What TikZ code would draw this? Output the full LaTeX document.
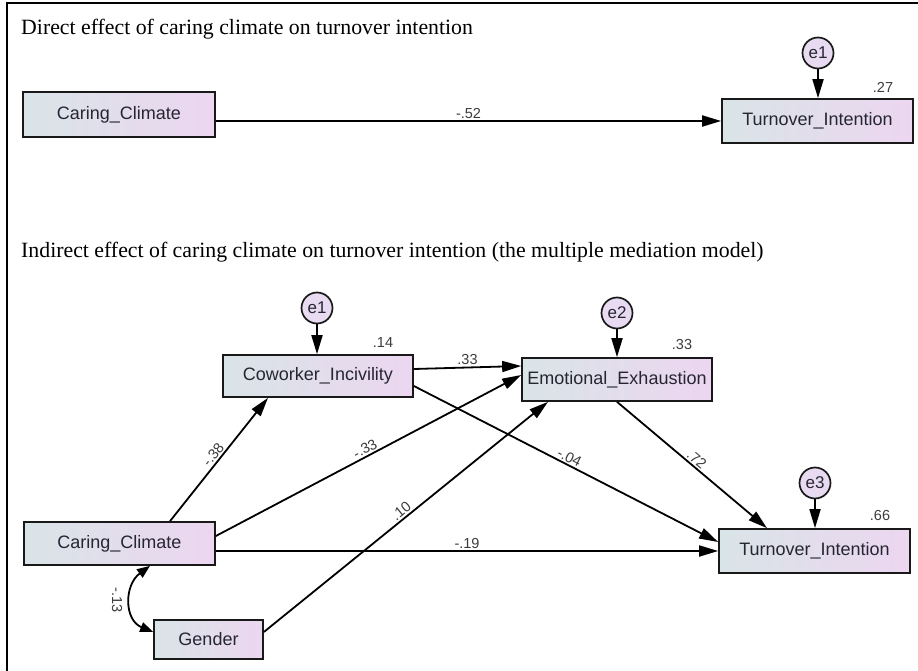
\documentclass[tikz,border=0pt]{standalone}
\usepackage{fontspec}
\setmainfont{Liberation Serif}
\setsansfont{Liberation Sans}
\usetikzlibrary{arrows.meta}
\definecolor{boxL}{RGB}{217,228,231}
\definecolor{boxR}{RGB}{236,214,240}
\definecolor{errF}{RGB}{232,218,240}
\definecolor{txt}{RGB}{38,38,51}
\definecolor{coefc}{RGB}{60,60,60}
\begin{document}
\begin{tikzpicture}[x=1pt,y=-1pt,
  varbox/.style={draw=black!90, line width=1.7pt, left color=boxL, right color=boxR,
    inner sep=0pt, text=txt, font=\sffamily\fontsize{18}{21}\selectfont},
  errc/.style={circle, draw=black!90, line width=1.7pt, fill=errF, minimum size=31pt,
    inner sep=0pt, text=txt, font=\sffamily\fontsize{17}{20}\selectfont},
  conn/.style={line width=1.8pt, -{Triangle[length=19pt,width=11pt]}},
  cov/.style={line width=1.8pt, {Triangle[length=13pt,width=10pt]}-{Triangle[length=13pt,width=10pt]}},
  coef/.style={font=\sffamily\fontsize{14.5}{16}\selectfont, text=coefc, inner sep=1.5pt},
  ttl/.style={font=\fontsize{21.8}{26}\selectfont, anchor=base west, inner sep=0pt}]
\useasboundingbox (0,0) rectangle (918,671);
\fill[white] (0,0) rectangle (918,671);
% frame
\draw[line width=1.2pt] (7,671) -- (7,3) -- (918,3);

% ---------- top panel ----------
\node[ttl] (t1) at (21,35) {Direct effect of caring climate on turnover intention};
\node[varbox, minimum width=192pt, minimum height=45pt] (cc1) at (119,114.5) {Caring\_Climate};
\node[varbox, minimum width=191pt, minimum height=44pt] (ti1) at (817.5,121) {Turnover\_Intention};
\node[errc] (e1a) at (818,53) {e1};
\node[coef] (r27) at (883,87) {.27};
\draw[conn] (cc1.east |- ti1.west) -- node[coef, above] (l52) {-.52} (ti1.west);
\draw[conn] (e1a.south) -- (e1a.south |- ti1.north);

% ---------- bottom panel ----------
\node[ttl] (t2) at (21,258) {Indirect effect of caring climate on turnover intention (the multiple mediation model)};
\node[varbox, minimum width=191pt, minimum height=43pt] (cc2) at (119.5,543.5) {Caring\_Climate};
\node[varbox, minimum width=190pt, minimum height=42pt] (ci) at (318,376) {Coworker\_Incivility};
\node[varbox, minimum width=190pt, minimum height=43pt] (ee) at (617,379.5) {Emotional\_Exhaustion};
\node[varbox, minimum width=191pt, minimum height=44pt] (ti2) at (814.5,551) {Turnover\_Intention};
\node[varbox, minimum width=109pt, minimum height=39pt] (g) at (208.5,639.5) {Gender};
\node[errc] (e1b) at (317,308) {e1};
\node[errc] (e2) at (617,313) {e2};
\node[errc] (e3) at (815,483) {e3};
\node[coef] (r14) at (383,343) {.14};
\node[coef] (r33) at (682,345) {.33};
\node[coef] (r66) at (880,516) {.66};

\draw[conn] (e1b.south) -- (e1b.south |- ci.north);
\draw[conn] (e2.south) -- (ee.north);
\draw[conn] (e3.south) -- (e3.south |- ti2.north);

\draw[conn] ([xshift=50.5pt]cc2.north) -- node[coef, sloped, above] (l38) {-.38} ([xshift=-50pt]ci.south);
\draw[conn] ([yshift=7.5pt]cc2.east) -- node[coef, sloped, above] (l33b) {-.33} ([yshift=4.5pt]ee.west);
\draw[conn] (cc2.east |- ti2.west) -- node[coef, above] (l19) {-.19} (ti2.west);
\draw[conn] ([yshift=7.5pt]g.east) -- node[coef, sloped, above] (l10) {.10} ([xshift=-69pt]ee.south);
\draw[conn] ([yshift=7pt]ci.east) -- node[coef, above] (l33a) {.33} ([yshift=13.5pt]ee.west);
\draw[conn] ([yshift=-10pt]ci.east) -- node[coef, sloped, above] (l04) {-.04} ([yshift=9pt]ti2.west);
\draw[conn] (ee.south) -- node[coef, sloped, above] (l72) {.72} ([xshift=-47.5pt]ti2.north);

\draw[cov] ([xshift=30.5pt]cc2.south) .. controls (124,585) and (124,620) .. ([yshift=7.5pt]g.west);
\node[coef, rotate=-90] (l13) at (117,600) {-.13};
\end{tikzpicture}
\end{document}
